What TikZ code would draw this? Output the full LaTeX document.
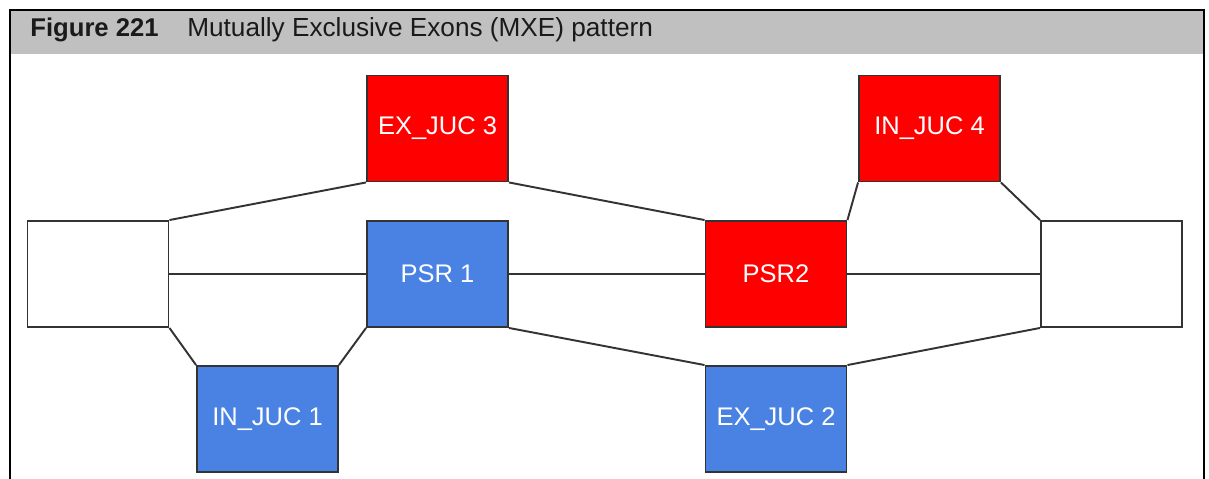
\documentclass[tikz,border=0pt]{standalone}
\usepackage{fontspec}
\setmainfont{Liberation Sans}
\definecolor{headfill}{HTML}{C0C0C0}
\definecolor{headtext}{HTML}{1A1A1A}
\definecolor{exonred}{HTML}{FF0000}
\definecolor{exonblue}{HTML}{4A82E4}
\definecolor{darkline}{HTML}{333333}
\tikzset{
  frame/.style={draw=black, line width=0.8pt},
  box/.style={rectangle, draw=darkline, line width=1.1pt, minimum width=2.82cm, minimum height=2.12cm, inner sep=0pt, font=\fontsize{14.5}{16}\selectfont, text=white},
  plain/.style={box, fill=white},
  redbox/.style={box, fill=exonred},
  bluebox/.style={box, fill=exonblue},
  link/.style={draw=darkline, line width=1.1pt},
  head-title/.style={anchor=base west, inner sep=0pt, font=\fontsize{14.6}{16}\selectfont, text=headtext}
}
\begin{document}
\begin{tikzpicture}[x=0.02cm, y=-0.02cm]

\useasboundingbox (0,0) rectangle (1209,479);

% figure header and frame
\fill[headfill] (10,10) rectangle (1204,54);
\draw[frame] (10,479) -- (10,10) -- (1204,10) -- (1204,479);
\node[head-title] (figno) at (30,37) {\textbf{Figure 221}};
\node[head-title, font=\fontsize{14.9}{16}\selectfont] (figtitle) at (187,37) {Mutually Exclusive Exons (MXE) pattern};

% exons
\node[plain] (leftex) at (98,274) {};
\node[bluebox] (psr1) at (437.5,274) {PSR 1};
\node[redbox] (psr2) at (776,274) {PSR2};
\node[plain] (rightex) at (1111.5,274) {};

\node[redbox] (exjuc3) at (437.5,128.5) {EX\_JUC 3};
\node[redbox] (injuc4) at (929.5,128.5) {IN\_JUC 4};
\node[bluebox] (injuc1) at (267.5,419) {IN\_JUC 1};
\node[bluebox] (exjuc2) at (776,419) {EX\_JUC 2};

% junctions
\draw[link] (leftex.north east) -- (exjuc3.south west);
\draw[link] (leftex.east) -- (psr1.west);
\draw[link] (leftex.south east) -- (injuc1.north west);
\draw[link] (injuc1.north east) -- (psr1.south west);
\draw[link] (exjuc3.south east) -- (psr2.north west);
\draw[link] (psr1.east) -- (psr2.west);
\draw[link] (psr1.south east) -- (exjuc2.north west);
\draw[link] (psr2.north east) -- (injuc4.south west);
\draw[link] (psr2.east) -- (rightex.west);
\draw[link] (injuc4.south east) -- (rightex.north west);
\draw[link] (exjuc2.north east) -- (rightex.south west);

\end{tikzpicture}
\end{document}
